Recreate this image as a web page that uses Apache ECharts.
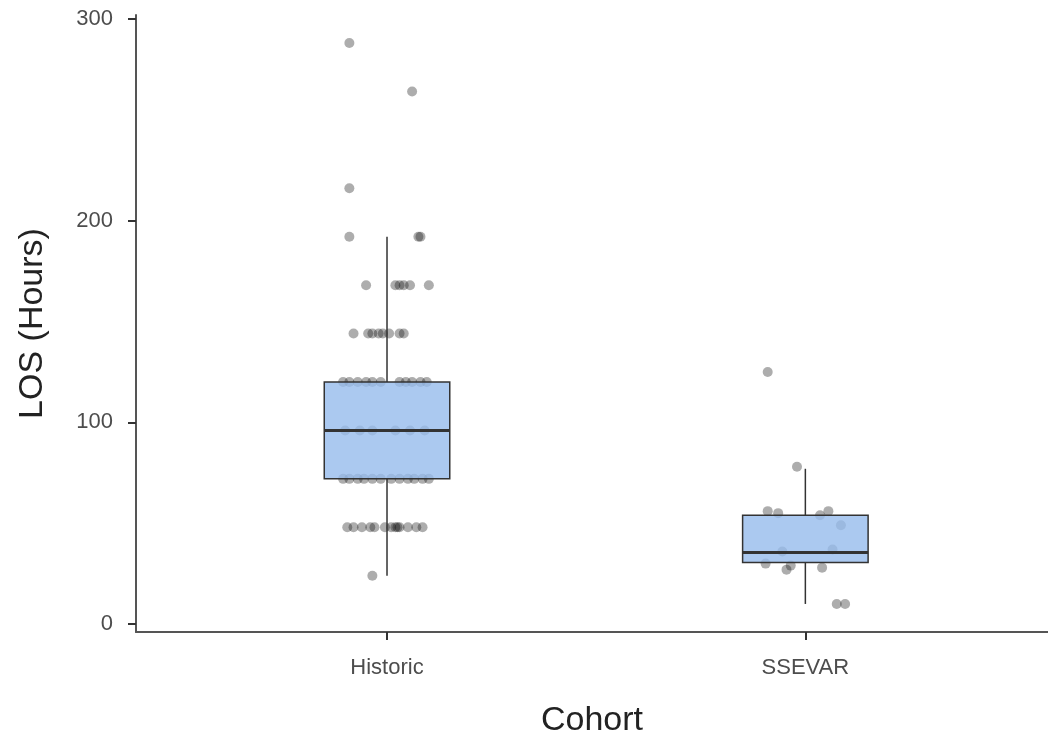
<!DOCTYPE html>
<html>
<head>
<meta charset="utf-8">
<title>LOS by cohort</title>
<script src="https://cdn.jsdelivr.net/npm/echarts@6/dist/echarts.min.js"></script>
<style>
  html, body { margin: 0; padding: 0; background: #fff; }
  #chart { width: 1048px; height: 737px; }
</style>
</head>
<body>
<div id="chart"></div>
<script>
// cohorts on the x axis (positions 0 and 1)
var cohorts = ['Historic', 'SSEVAR']
var yTicks = [0, 100, 200, 300]

// box stats: [position, lower whisker, Q1, median, Q3, upper whisker]
var historicBox = [0, 24, 72, 96, 120, 192]
var ssevarBox = [1, 10, 30.5, 35.5, 54, 77]

// jittered points, offset from cohort position and LOS (hours)
var historicJitter = [
  -0.09, 0.06, -0.09, -0.09, 0.075, 0.08,
  -0.05, 0.02, 0.03, 0.04, 0.055, 0.1,
  -0.08, -0.045, -0.035, -0.02, -0.01, 0.005, 0.03, 0.04,
  -0.105, -0.09, -0.07, -0.05, -0.035, -0.015, 0.03, 0.045, 0.06, 0.08, 0.095,
  -0.1, -0.065, -0.035, 0.02, 0.055, 0.09,
  -0.105, -0.09, -0.07, -0.055, -0.035, -0.015, 0.01, 0.03, 0.05, 0.065, 0.085, 0.1,
  -0.095, -0.08, -0.06, -0.04, -0.03, -0.005, 0.01, 0.02, 0.025, 0.03, 0.05, 0.07, 0.085,
  -0.035
]
var historicLOS = [
  288, 264, 216, 192, 192, 192,
  168, 168, 168, 168, 168, 168,
  144, 144, 144, 144, 144, 144, 144, 144,
  120, 120, 120, 120, 120, 120, 120, 120, 120, 120, 120,
  96, 96, 96, 96, 96, 96,
  72, 72, 72, 72, 72, 72, 72, 72, 72, 72, 72, 72,
  48, 48, 48, 48, 48, 48, 48, 48, 48, 48, 48, 48, 48,
  24
]
var ssevarJitter = [
  -0.09, -0.02, -0.09, -0.065, 0.035, 0.055, 0.085, 0.065,
  -0.055, -0.095, -0.045, -0.035, 0.04, 0.075, 0.095
]
var ssevarLOS = [
  125, 78, 56, 55, 54, 56, 49, 37,
  36, 30, 27, 29, 28, 10, 10
]

function points (pos, jitter, los) {
  return los.map(function (v, i) { return [pos + jitter[i], v] })
}

var chart = echarts.init(document.getElementById('chart'))

var boxWidth = 0.3

chart.setOption({
  animation: false,
  textStyle: { fontFamily: 'Liberation Sans, Arial, sans-serif' },
  grid: { left: 136, right: 0, top: 15, bottom: 105, outerBoundsMode: 'none', containLabel: false },
  xAxis: {
    type: 'value',
    min: -0.6,
    max: 1.58,
    name: 'Cohort',
    nameLocation: 'middle',
    nameGap: 72,
    nameTextStyle: { fontSize: 34, color: '#222' },
    axisLine: { show: true, onZero: false, lineStyle: { color: '#555', width: 2 } },
    axisTick: { show: true, length: 8, customValues: [0, 1], lineStyle: { color: '#333', width: 2 } },
    axisLabel: {
      customValues: [0, 1],
      margin: 25,
      fontSize: 22,
      color: '#4d4d4d',
      formatter: function (v) { return cohorts[Math.round(v)] }
    },
    splitLine: { show: false }
  },
  yAxis: {
    type: 'value',
    min: -3.9,
    max: 301.9,
    name: 'LOS (Hours)',
    nameLocation: 'middle',
    nameGap: 86,
    nameTextStyle: { fontSize: 34, color: '#222' },
    axisLine: { show: true, onZero: false, lineStyle: { color: '#555', width: 2 } },
    axisTick: { show: true, length: 8, customValues: yTicks, lineStyle: { color: '#333', width: 2 } },
    axisLabel: { customValues: yTicks, margin: 23, fontSize: 22, color: '#4d4d4d' },
    splitLine: { show: false }
  },
  series: [
    {
      type: 'scatter',
      symbolSize: 10,
      itemStyle: { color: 'rgba(0,0,0,0.4)' },
      data: points(0, historicJitter, historicLOS).concat(points(1, ssevarJitter, ssevarLOS)),
      z: 2
    },
    {
      // box and whiskers, ggplot style (no whisker caps, thick median)
      type: 'custom',
      z: 3,
      data: [historicBox, ssevarBox],
      renderItem: function (params, api) {
        var x = api.value(0)
        var half = api.size([boxWidth / 2, 0])[0]
        var pMin = api.coord([x, api.value(1)])
        var pQ1 = api.coord([x, api.value(2)])
        var pMed = api.coord([x, api.value(3)])
        var pQ3 = api.coord([x, api.value(4)])
        var pMax = api.coord([x, api.value(5)])
        var stroke = { stroke: '#333', lineWidth: 1.5 }
        return {
          type: 'group',
          children: [
            { type: 'line', shape: { x1: pMax[0], y1: pMax[1], x2: pQ3[0], y2: pQ3[1] }, style: stroke },
            { type: 'line', shape: { x1: pQ1[0], y1: pQ1[1], x2: pMin[0], y2: pMin[1] }, style: stroke },
            {
              type: 'rect',
              shape: { x: pQ3[0] - half, y: pQ3[1], width: half * 2, height: pQ1[1] - pQ3[1] },
              style: { fill: 'rgba(150,188,236,0.8)', stroke: '#333', lineWidth: 1.5 }
            },
            {
              type: 'line',
              shape: { x1: pMed[0] - half, y1: pMed[1], x2: pMed[0] + half, y2: pMed[1] },
              style: { stroke: '#333', lineWidth: 3 }
            }
          ]
        }
      }
    }
  ]
})
</script>
</body>
</html>
